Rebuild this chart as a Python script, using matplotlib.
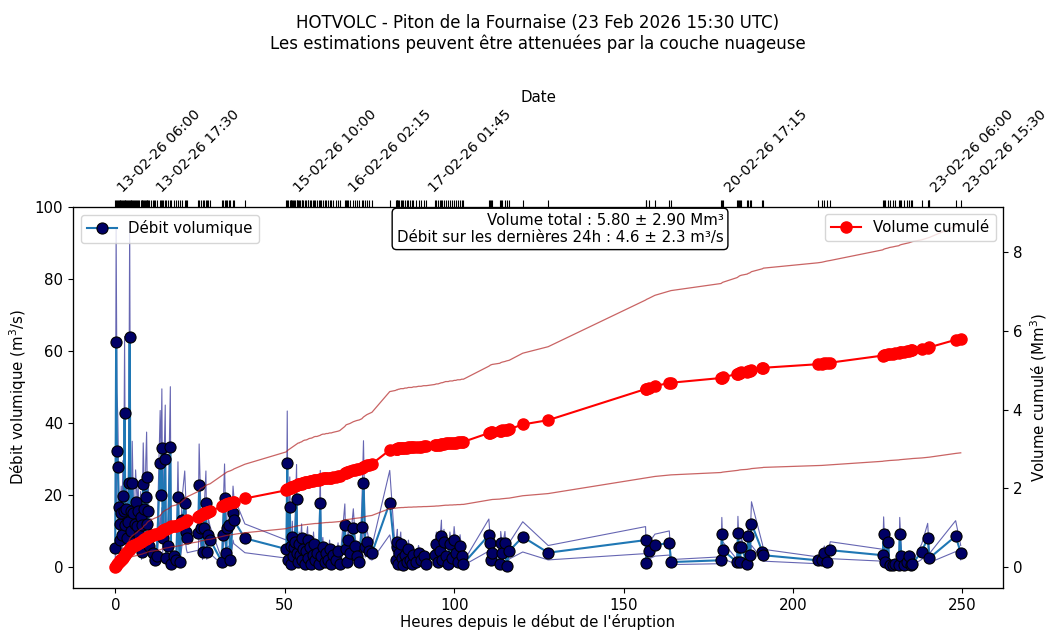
import matplotlib
matplotlib.use("Agg")
import matplotlib.pyplot as plt
import numpy as np
from datetime import datetime

# ---------------- data ----------------
# hours since eruption start
hours = [
    # 0 - 21 h
    0.00, 0.25, 0.50, 0.75, 1.00, 1.25, 1.50, 1.75, 2.00, 2.25,
    2.50, 2.75, 3.00, 3.25, 3.50, 3.75, 4.00, 4.25, 4.50, 4.75,
    5.00, 5.25, 5.50, 5.75, 6.00, 6.50, 6.75, 7.00, 7.50, 7.75,
    8.00, 8.25, 8.50, 8.75, 9.00, 9.25, 9.50, 9.75, 10.00, 10.50,
    11.00, 11.75, 12.25, 13.25, 13.50, 13.75, 14.00, 14.75, 15.00, 15.50,
    16.25, 16.50, 17.25, 18.00, 18.50, 19.00, 19.75, 20.50, 21.00, 21.25,
    # 24 - 38 h
    24.50, 24.75, 25.25, 25.75, 26.25, 26.75, 27.00, 27.50, 28.00, 31.50,
    31.75, 32.25, 32.75, 33.00, 33.50, 34.00, 34.75, 35.00, 38.25,
    # 50 - 66 h
    50.50, 50.75, 51.00, 51.50, 51.75, 52.00, 52.25, 52.50, 52.75, 53.00,
    53.50, 53.75, 54.00, 54.25, 54.50, 55.00, 55.25, 55.50, 56.00, 56.25,
    56.75, 57.00, 57.50, 57.75, 58.25, 58.50, 59.00, 59.50, 60.00, 60.50,
    60.75, 61.25, 61.75, 62.25, 62.75, 63.25, 63.75, 64.25, 65.00, 65.75, 66.25,
    # 67 - 81 h
    67.75, 68.00, 68.25, 68.75, 69.25, 70.25, 70.75, 71.25, 72.00, 72.75,
    73.25, 73.75, 74.25, 75.00, 75.75, 81.00,
    # 82 - 92 h
    82.75, 83.00, 83.25, 83.50, 83.75, 84.25, 84.50, 85.00, 85.50, 86.00,
    86.50, 87.00, 87.50, 88.00, 88.75, 89.50, 90.25, 91.00, 91.75,
    # 94 - 103 h
    94.25, 94.75, 95.25, 95.75, 96.25, 96.50, 97.00, 97.50, 98.25, 98.75,
    99.50, 100.00, 100.50, 101.00, 101.75, 102.25, 102.75,
    # 110 - 128 h
    110.25, 110.50, 110.75, 111.25, 113.50, 113.75, 114.25, 115.00, 115.50, 116.25,
    120.25, 127.75,
    # 156 - 164 h
    156.50, 156.75, 157.50, 159.25, 163.50, 164.00,
    # 178 - 191 h
    178.75, 179.00, 179.25, 183.50, 183.75, 184.00, 184.25, 184.75, 186.50, 186.75,
    187.25, 187.75, 191.00, 191.25,
    # 207 - 211 h
    207.25, 208.50, 209.25, 210.00, 211.00,
    # 226 - 240 h
    226.50, 226.75, 227.25, 228.00, 228.50, 229.50, 230.25, 231.25, 231.50, 232.00,
    232.75, 233.50, 234.25, 234.75, 235.25, 238.00, 239.75, 240.25,
    # 248 - 250 h
    248.00, 249.50,
]

# volumetric flow rate (m3/s)
debit = [
    5.3, 62.6, 32.3, 27.8, 16.7, 7.5, 12.0, 15.0, 9.0, 19.7,
    15.5, 42.7, 11.8, 16.0, 8.0, 12.5, 23.3, 63.9, 15.5, 10.0,
    23.3, 15.0, 7.0, 12.0, 18.0, 11.5, 15.5, 9.0, 14.0, 4.3,
    11.8, 23.0, 16.0, 7.5, 19.6, 25.0, 12.0, 15.5, 6.0, 9.0,
    4.0, 2.0, 3.0, 29.0, 20.0, 33.0, 8.0, 30.0, 2.5, 6.0,
    33.4, 1.0, 3.0, 2.0, 19.5, 1.5, 13.0, 17.8, 9.7, 8.0,
    9.4, 22.8, 11.0, 4.2, 10.8, 17.8, 4.3, 8.9, 7.5, 1.4,
    8.9, 19.1, 3.9, 11.0, 11.7, 2.0, 15.0, 13.0, 8.0,
    5.0, 28.9, 2.0, 16.7, 6.0, 1.0, 8.5, 3.0, 5.5, 7.0,
    19.0, 4.0, 1.5, 6.5, 3.5, 8.0, 2.0, 5.0, 0.8, 4.5,
    7.5, 2.5, 5.5, 1.0, 3.5, 6.5, 2.0, 4.0, 1.0, 17.9,
    3.0, 5.5, 1.5, 4.0, 2.0, 5.0, 0.8, 3.5, 2.0, 4.5, 1.0,
    11.7, 5.0, 1.5, 7.5, 4.0, 10.8, 6.0, 3.0, 1.5, 11.1,
    23.4, 5.5, 7.0, 4.5, 3.9, 17.9,
    2.0, 5.5, 7.0, 1.0, 4.0, 6.5, 2.5, 0.5, 3.5, 1.5,
    5.0, 2.0, 0.8, 3.5, 1.5, 4.0, 2.0, 3.0, 1.0,
    3.5, 6.5, 1.5, 4.5, 8.7, 2.0, 7.0, 3.0, 1.0, 6.5,
    2.5, 7.5, 4.0, 1.5, 6.0, 3.0, 1.0,
    8.9, 6.6, 2.0, 4.0, 1.0, 6.6, 3.9, 6.6, 0.3, 4.5,
    8.4, 4.0,
    7.5, 1.1, 4.5, 6.1, 6.7, 1.4,
    1.9, 9.2, 4.7, 1.4, 9.4, 5.6, 1.4, 5.6, 0.8, 8.6,
    3.3, 12.1, 4.2, 3.3,
    1.9, 1.9, 3.9, 1.4, 4.7,
    3.3, 9.3, 1.4, 7.0, 0.5, 0.5, 1.0, 0.5, 9.2, 3.0,
    0.5, 1.5, 3.0, 0.5, 1.0, 4.3, 8.1, 2.5,
    8.6, 4.0,
]

# cumulated volume (Mm3)
volume = [
    0.00, 0.03, 0.07, 0.10, 0.13, 0.15, 0.17, 0.19, 0.21, 0.24,
    0.28, 0.31, 0.34, 0.36, 0.38, 0.41, 0.43, 0.47, 0.50, 0.51,
    0.53, 0.54, 0.55, 0.56, 0.57, 0.59, 0.61, 0.62, 0.64, 0.65,
    0.66, 0.68, 0.70, 0.71, 0.72, 0.74, 0.76, 0.77, 0.78, 0.80,
    0.81, 0.83, 0.84, 0.87, 0.89, 0.91, 0.93, 0.96, 0.97, 0.98,
    1.01, 1.03, 1.04, 1.05, 1.07, 1.08, 1.11, 1.15, 1.18, 1.19,
    1.28, 1.30, 1.33, 1.34, 1.36, 1.38, 1.39, 1.40, 1.41, 1.55,
    1.56, 1.58, 1.60, 1.61, 1.62, 1.63, 1.65, 1.66, 1.74,
    1.95, 1.97, 1.98, 2.00, 2.01, 2.02, 2.03, 2.04, 2.05, 2.06,
    2.08, 2.09, 2.10, 2.10, 2.11, 2.12, 2.13, 2.14, 2.15, 2.15,
    2.16, 2.17, 2.18, 2.18, 2.19, 2.20, 2.21, 2.21, 2.22, 2.23,
    2.24, 2.25, 2.25, 2.26, 2.26, 2.27, 2.27, 2.28, 2.29, 2.30, 2.31,
    2.38, 2.40, 2.41, 2.42, 2.43, 2.46, 2.47, 2.48, 2.49, 2.51,
    2.54, 2.56, 2.58, 2.60, 2.62, 2.97,
    2.99, 3.00, 3.00, 3.01, 3.01, 3.02, 3.02, 3.02, 3.03, 3.03,
    3.04, 3.04, 3.04, 3.05, 3.05, 3.06, 3.06, 3.07, 3.07,
    3.09, 3.10, 3.10, 3.11, 3.12, 3.12, 3.13, 3.14, 3.14, 3.15,
    3.15, 3.16, 3.16, 3.17, 3.17, 3.18, 3.18,
    3.40, 3.41, 3.42, 3.43, 3.45, 3.46, 3.47, 3.48, 3.49, 3.50,
    3.62, 3.73,
    4.52, 4.53, 4.55, 4.60, 4.67, 4.68,
    4.80, 4.81, 4.82, 4.90, 4.91, 4.92, 4.93, 4.94, 4.96, 4.97,
    4.98, 5.00, 5.05, 5.06,
    5.15, 5.16, 5.17, 5.18, 5.19,
    5.37, 5.38, 5.39, 5.40, 5.41, 5.42, 5.43, 5.44, 5.45, 5.46,
    5.47, 5.48, 5.49, 5.50, 5.51, 5.54, 5.57, 5.58,
    5.77, 5.80,
]

uncertainty = 0.5  # +/- 50 %

eruption_start = "13-02-26 06:00"
date_labels = ["13-02-26 06:00", "13-02-26 17:30", "15-02-26 10:00",
               "16-02-26 02:15", "17-02-26 01:45", "20-02-26 17:15",
               "23-02-26 06:00", "23-02-26 15:30"]

title_text = ("HOTVOLC - Piton de la Fournaise (23 Feb 2026 15:30 UTC)\n"
              "Les estimations peuvent être attenuées par la couche nuageuse")
info_text = ("Volume total : 5.80 ± 2.90 Mm³\n"
             "Débit sur les dernières 24h : 4.6 ± 2.3 m³/s")

assert len(hours) == len(debit) == len(volume)

# ---------------- plotting ----------------
FS = 10.8
plt.rcParams["font.size"] = FS
plt.rcParams["xtick.labelsize"] = FS
plt.rcParams["ytick.labelsize"] = FS

h = np.array(hours)
d = np.array(debit)
v = np.array(volume)

fig = plt.figure(figsize=(10.49, 6.31), dpi=100)
ax = fig.add_axes([73 / 1049, 43 / 631, 930 / 1049, 381 / 631])

ax.plot(h, d * (1 - uncertainty), color="navy", lw=0.8, alpha=0.6)
ax.plot(h, d * (1 + uncertainty), color="navy", lw=0.8, alpha=0.6)
ax.plot(h, d, "-o", color="#1f77b4", lw=1.5, markersize=8,
        markerfacecolor="#000066", markeredgecolor="black",
        markeredgewidth=0.8, label="Débit volumique")
ax.set_ylim(-5.8, 100)
ax.set_yticks(range(0, 101, 20))
ax.set_xlabel("Heures depuis le début de l'éruption", fontsize=FS, labelpad=1)
ax.set_ylabel("Débit volumique (m$^3$/s)", fontsize=FS)
ax.legend(loc="upper left", fontsize=FS)

ax2 = ax.twinx()
ax2.plot(h, v * (1 - uncertainty), color="firebrick", lw=0.9, alpha=0.7)
ax2.plot(h, v * (1 + uncertainty), color="firebrick", lw=0.9, alpha=0.7)
ax2.plot(h, v, "-o", color="red", lw=1.5, markersize=8, label="Volume cumulé")
ax2.set_ylim(-0.533, 9.143)
ax2.set_ylabel("Volume cumulé (Mm$^3$)", fontsize=FS)
ax2.set_yticks([0, 2, 4, 6, 8])
ax2.legend(loc="upper right", fontsize=FS)
ax2.text(0.5237, 0.985, info_text, transform=ax2.transAxes, ha="center",
         va="top", multialignment="right", fontsize=FS, zorder=10,
         bbox=dict(boxstyle="round", facecolor="white", edgecolor="black"))

xlim = ax.get_xlim()
ax_top = ax.twiny()
ax_top.set_xlim(xlim)
t0 = datetime.strptime(eruption_start, "%d-%m-%y %H:%M")
label_pos = [(datetime.strptime(s, "%d-%m-%y %H:%M") - t0).total_seconds() / 3600
             for s in date_labels]
ax_top.set_xticks(label_pos)
ax_top.set_xticklabels(date_labels, rotation=45, ha="left", fontsize=10.3)
ax_top.set_xticks(h, minor=True)
ax_top.tick_params(which="both", length=5, width=0.8)
ax_top.set_xlabel("Date", fontsize=FS)

fig.text(538 / 1049, 0.978, title_text, ha="center", va="top", fontsize=12)

fig.savefig("out.png", dpi=100)
